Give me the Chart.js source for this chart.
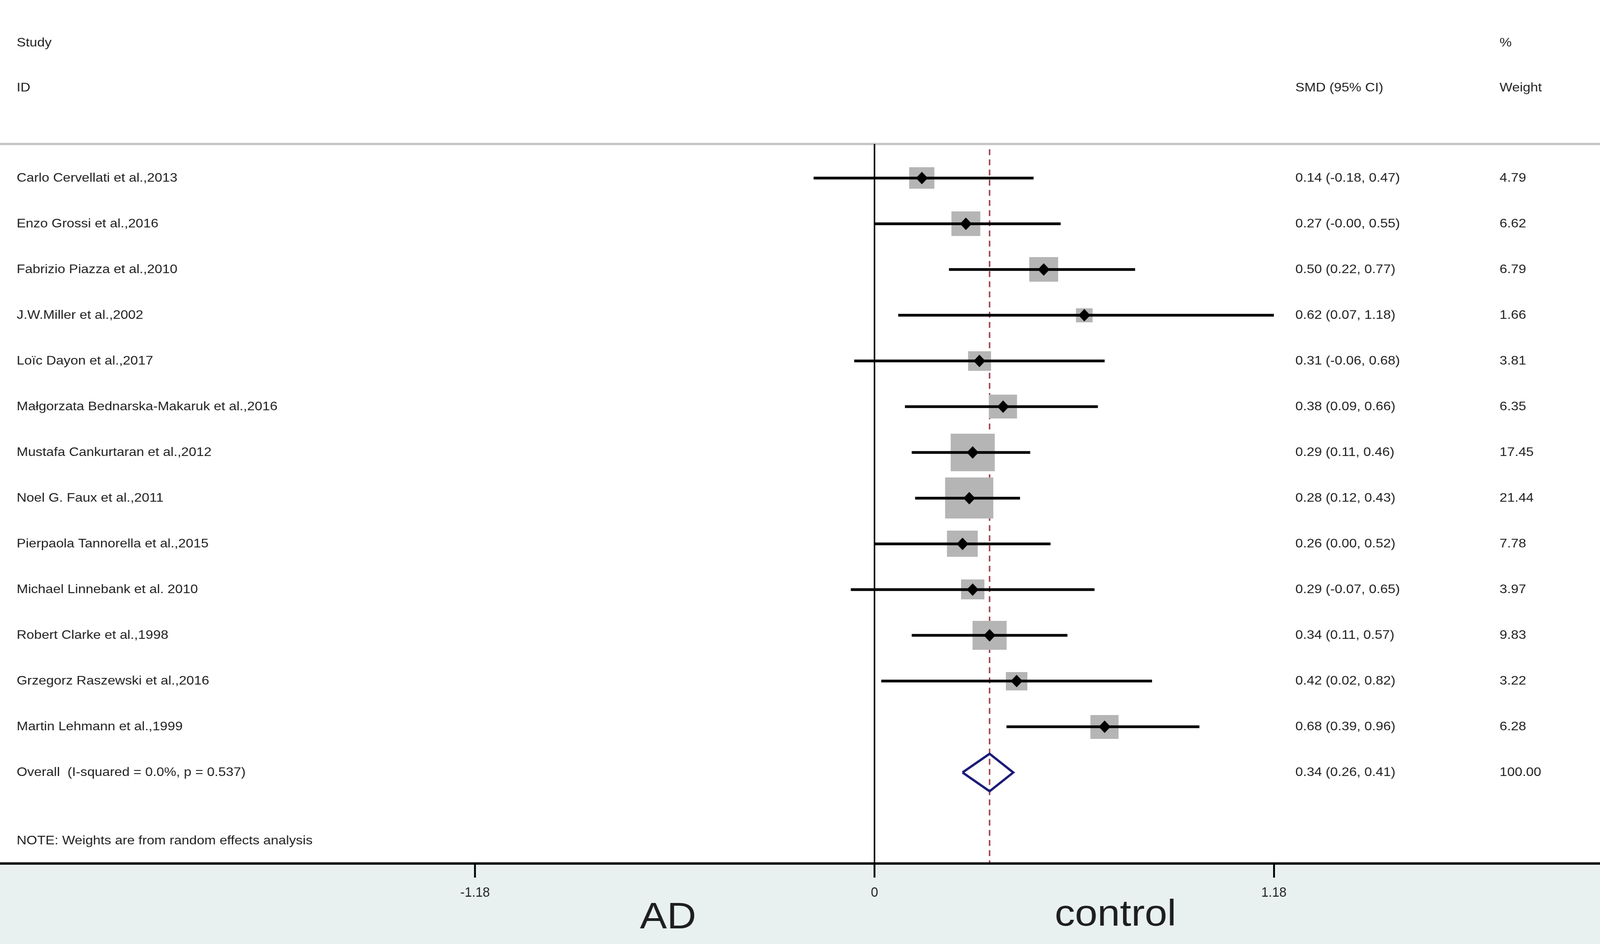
<!DOCTYPE html>
<html><head><meta charset="utf-8">
<script src="https://cdn.jsdelivr.net/npm/chart.js@4.4.1/dist/chart.umd.min.js"></script>
<style>html,body{margin:0;padding:0;background:#fff;overflow:hidden;width:100vw;height:100vh}canvas{display:block;width:100vw!important;height:100vh!important}</style>
</head><body>
<canvas id="c" width="4317" height="2416" style="width:100vw;height:100vh"></canvas>
<script>
// ---------- data ----------
const studies = [
  'Carlo Cervellati et al.,2013',
  'Enzo Grossi et al.,2016',
  'Fabrizio Piazza et al.,2010',
  'J.W.Miller et al.,2002',
  'Loïc Dayon et al.,2017',
  'Małgorzata Bednarska-Makaruk et al.,2016',
  'Mustafa Cankurtaran et al.,2012',
  'Noel G. Faux et al.,2011',
  'Pierpaola Tannorella et al.,2015',
  'Michael Linnebank et al. 2010',
  'Robert Clarke et al.,1998',
  'Grzegorz Raszewski et al.,2016',
  'Martin Lehmann et al.,1999'
];
const smd     = [0.14, 0.27, 0.50, 0.62, 0.31, 0.38, 0.29, 0.28, 0.26, 0.29, 0.34, 0.42, 0.68];
const ciLow   = [-0.18, -0.00, 0.22, 0.07, -0.06, 0.09, 0.11, 0.12, 0.00, -0.07, 0.11, 0.02, 0.39];
const ciHigh  = [0.47, 0.55, 0.77, 1.18, 0.68, 0.66, 0.46, 0.43, 0.52, 0.65, 0.57, 0.82, 0.96];
const weights = [4.79, 6.62, 6.79, 1.66, 3.81, 6.35, 17.45, 21.44, 7.78, 3.97, 9.83, 3.22, 6.28];
const overallLabel = 'Overall  (I-squared = 0.0%, p = 0.537)';
const overallSmd = [0.34];
const overallLow = [0.26];
const overallHigh = [0.41];
const overallWeight = [100.00];
const noteText = 'NOTE: Weights are from random effects analysis';
const headerTop = ['Study', '%'];
const headerBottom = ['ID', 'SMD (95% CI)', 'Weight'];
const xTicks = [-1.18, 0, 1.18];
const tickLabels = ['-1.18', '0', '1.18'];
const sideLabels = ['AD', 'control'];

// ---------- styles / layout ----------
const FONT = '"Liberation Sans", Arial, Helvetica, sans-serif';
const STRETCH = 1.15;
const X_MIN = -2.5663, X_MAX = 2.1261;
const Y_MIN = -2.757, Y_MAX = 15.99;
const fmt = v => (Object.is(v, -0) ? '-' : '') + v.toFixed(2);
const ciText = (e, l, h) => fmt(e) + ' (' + fmt(l) + ', ' + fmt(h) + ')';

function boxCanvas(w) {
  const bw = Math.round(12 + 25.5 * Math.sqrt(w));
  const bh = Math.round(bw / 1.24);
  const c = document.createElement('canvas');
  c.width = bw; c.height = bh;
  const g = c.getContext('2d');
  g.fillStyle = '#b5b5b5';
  g.fillRect(0, 0, bw, bh);
  return c;
}

const rowY = studies.map((s, i) => i + 1);
const overallY = studies.length + 1;
const noteY = studies.length + 2.5;

const datasets = [];
datasets.push({
  label: 'est', order: 0,
  data: smd.map((v, i) => ({x: v, y: rowY[i]})),
  pointStyle: 'rectRot', pointRadius: 16, pointBackgroundColor: '#000',
  pointBorderWidth: 0, showLine: false
});
const half = 0.41;
datasets.push({
  label: 'overall', order: 1, showLine: true, pointRadius: 0,
  borderColor: '#1a1a78', borderWidth: 6, fill: false, borderJoinStyle: 'miter',
  data: [
    {x: overallLow[0], y: overallY},
    {x: overallSmd[0], y: overallY - half},
    {x: overallHigh[0], y: overallY},
    {x: overallSmd[0], y: overallY + half},
    {x: overallLow[0], y: overallY}
  ]
});
studies.forEach((s, i) => {
  datasets.push({
    label: 'ci' + i, order: 2, showLine: true, pointRadius: 0,
    borderColor: '#000', borderWidth: 7, borderCapStyle: 'butt',
    data: [{x: ciLow[i], y: rowY[i]}, {x: ciHigh[i], y: rowY[i]}]
  });
});
datasets.push({
  label: 'boxes', order: 3, showLine: false,
  data: smd.map((v, i) => ({x: v, y: rowY[i]})),
  pointStyle: weights.map(boxCanvas), pointRadius: 10
});
datasets.push({
  label: 'zero', order: 4, showLine: true, pointRadius: 0,
  borderColor: '#000', borderWidth: 4,
  data: [{x: 0, y: 0.254}, {x: 0, y: Y_MAX}]
});
datasets.push({
  label: 'dash', order: 5, showLine: true, pointRadius: 0,
  borderColor: '#a0404e', borderWidth: 4, borderDash: [15, 11],
  data: [{x: overallSmd[0], y: 0.37}, {x: overallSmd[0], y: Y_MAX}]
});

function drawText(ctx, s, x, y, size, align, baseline) {
  ctx.save();
  ctx.font = size + 'px ' + FONT;
  ctx.fillStyle = '#1e1e1e';
  ctx.textAlign = 'left';
  ctx.textBaseline = baseline || 'middle';
  ctx.translate(x, y);
  ctx.scale(STRETCH, 1);
  const w = ctx.measureText(s).width;
  ctx.fillText(s, align === 'center' ? -w / 2 : 0, 0);
  ctx.restore();
}

const forestPlugin = {
  id: 'forest',
  beforeDraw(chart) {
    const ctx = chart.ctx, a = chart.chartArea, ys = chart.scales.y;
    ctx.save();
    ctx.fillStyle = '#fff';
    ctx.fillRect(0, 0, chart.width, chart.height);
    ctx.fillStyle = '#e8f0f0';
    ctx.fillRect(0, a.bottom, chart.width, chart.height - a.bottom);
    ctx.strokeStyle = '#c6c6c6';
    ctx.lineWidth = 6;
    const yl = ys.getPixelForValue(0.254);
    ctx.beginPath(); ctx.moveTo(0, yl); ctx.lineTo(chart.width, yl); ctx.stroke();
    ctx.restore();
  },
  afterDraw(chart) {
    const ctx = chart.ctx, ys = chart.scales.y, xs = chart.scales.x, a = chart.chartArea;
    // axis line across the full width
    ctx.save();
    ctx.strokeStyle = '#000';
    ctx.lineWidth = 6;
    ctx.beginPath(); ctx.moveTo(0, a.bottom); ctx.lineTo(chart.width, a.bottom); ctx.stroke();
    ctx.restore();

    const xL = 45, xC = 3495, xW = 4046, fs = 32;
    const yH1 = ys.getPixelForValue(-1.95), yH2 = ys.getPixelForValue(-0.97);
    drawText(ctx, headerTop[0], xL, yH1, fs);
    drawText(ctx, headerTop[1], xW, yH1, fs);
    drawText(ctx, headerBottom[0], xL, yH2, fs);
    drawText(ctx, headerBottom[1], xC, yH2, fs);
    drawText(ctx, headerBottom[2], xW, yH2, fs);
    studies.forEach((s, i) => {
      const y = ys.getPixelForValue(rowY[i]);
      drawText(ctx, s, xL, y, fs);
      drawText(ctx, ciText(smd[i], ciLow[i], ciHigh[i]), xC, y, fs);
      drawText(ctx, weights[i].toFixed(2), xW, y, fs);
    });
    const yo = ys.getPixelForValue(overallY);
    drawText(ctx, overallLabel, xL, yo, fs);
    drawText(ctx, ciText(overallSmd[0], overallLow[0], overallHigh[0]), xC, yo, fs);
    drawText(ctx, overallWeight[0].toFixed(2), xW, yo, fs);
    drawText(ctx, noteText, xL, ys.getPixelForValue(noteY), fs);
    drawText(ctx, sideLabels[0], xs.getPixelForValue(-0.61), a.bottom + 166, 95, 'center', 'alphabetic');
    drawText(ctx, sideLabels[1], xs.getPixelForValue(0.712), a.bottom + 159, 95, 'center', 'alphabetic');
  }
};

new Chart(document.getElementById('c'), {
  type: 'scatter',
  data: {datasets},
  plugins: [forestPlugin],
  options: {
    responsive: false,
    devicePixelRatio: 1,
    animation: false,
    events: [],
    layout: {padding: 0},
    plugins: {legend: {display: false}, tooltip: {enabled: false}},
    scales: {
      x: {
        type: 'linear', position: 'bottom', min: X_MIN, max: X_MAX,
        afterBuildTicks: axis => { axis.ticks = xTicks.map(v => ({value: v})); },
        afterFit: axis => { axis.height = 206; },
        grid: {drawOnChartArea: false, drawTicks: true, tickLength: 36, color: '#000', lineWidth: 5},
        border: {display: false},
        ticks: {
          padding: 18, color: '#222', maxRotation: 0, autoSkip: false,
          font: {family: FONT, size: 35},
          callback: (v, i) => tickLabels[i]
        }
      },
      y: {
        type: 'linear', display: false, reverse: true, min: Y_MIN, max: Y_MAX
      }
    }
  }
});
</script>
</body></html>
